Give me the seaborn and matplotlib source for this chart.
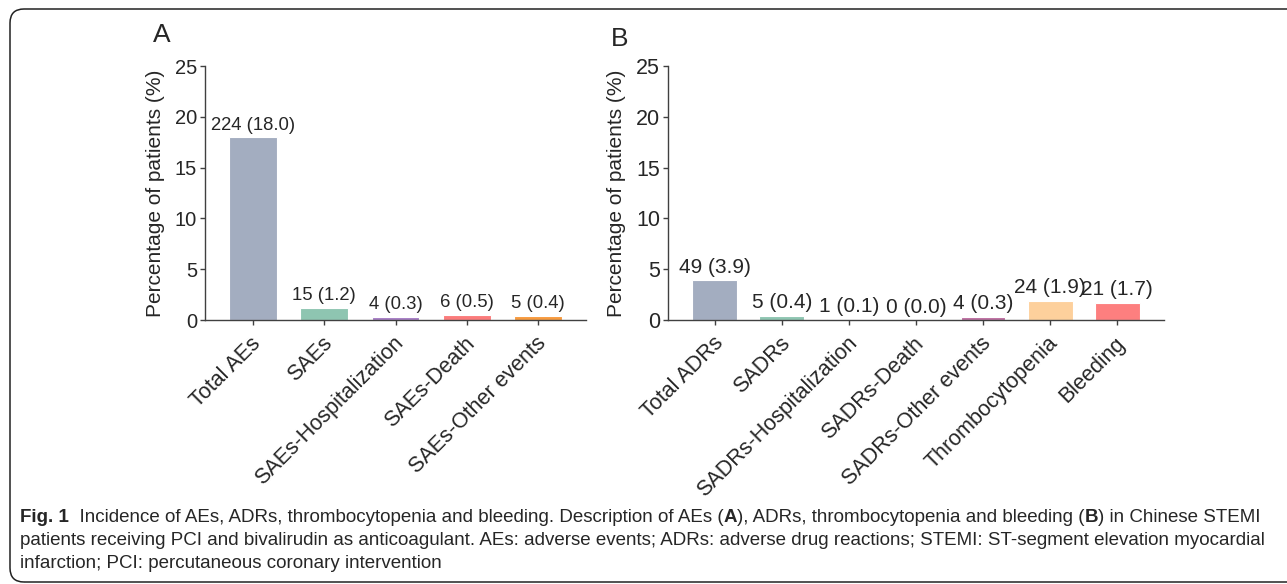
import matplotlib
matplotlib.use("Agg")
import matplotlib.pyplot as plt
import matplotlib.transforms as mtransforms
from matplotlib.patches import FancyBboxPatch
import seaborn as sns
import pandas as pd

# === Data ===
ae_labels = ["Total AEs", "SAEs", "SAEs-Hospitalization", "SAEs-Death", "SAEs-Other events"]
ae_counts = [224, 15, 4, 6, 5]
ae_pct = [18.0, 1.2, 0.3, 0.5, 0.4]
ae_colors = ["#a3adc0", "#8ec5b1", "#a67cc4", "#fb7b7b", "#f79a3e"]

adr_labels = ["Total ADRs", "SADRs", "SADRs-Hospitalization", "SADRs-Death",
              "SADRs-Other events", "Thrombocytopenia", "Bleeding"]
adr_counts = [49, 5, 1, 0, 4, 24, 21]
adr_pct = [3.9, 0.4, 0.1, 0.0, 0.3, 1.9, 1.7]
adr_colors = ["#a3adc0", "#8ec5b1", "#a67cc4", "#c9a0c0", "#bd6ea0", "#fdd09c", "#fd7f7f"]

y_ticks = [0, 5, 10, 15, 20, 25]

sns.set_style("ticks")
plt.rcParams["font.family"] = ["Liberation Sans", "DejaVu Sans"]
AXC = "#404040"

W, H = 1287, 584
fig = plt.figure(figsize=(W / 100, H / 100), dpi=100)


def px_rect(left, right, top, bottom):
    return [left / W, (H - bottom) / H, (right - left) / W, (bottom - top) / H]


def draw_panel(ax, labels, counts, pct, colors, xpad, lab_fs, ytick_fs):
    df = pd.DataFrame({"cat": labels, "pct": pct})
    sns.barplot(data=df, x="cat", y="pct", hue="cat", palette=colors, legend=False,
                width=0.67, saturation=1, edgecolor="white", linewidth=0.8, ax=ax)
    for cont, n, p in zip(ax.containers, counts, pct):
        ax.bar_label(cont, labels=[f"{n} ({p:.1f})"], padding=2.5, fontsize=lab_fs)
    ax.set_xlim(-xpad, len(labels) - 1 + xpad)
    ax.set_ylim(0, 25)
    ax.set_yticks(y_ticks)
    ax.set_xlabel("")
    ax.set_ylabel("Percentage of patients (%)", fontsize=15, labelpad=7)
    sns.despine(ax=ax)
    for s in ["left", "bottom"]:
        ax.spines[s].set_color(AXC)
        ax.spines[s].set_linewidth(1.0)
    ax.tick_params(axis="y", labelsize=ytick_fs, length=3.6, width=1.0, color=AXC, pad=2)
    ax.tick_params(axis="x", labelsize=15.5, length=3.6, width=1.0, color=AXC, pad=11)
    ax.set_xticks(range(len(labels)))
    ax.set_xticklabels(labels, rotation=45, ha="right", va="center", rotation_mode="anchor")
    shift = mtransforms.ScaledTranslation(5 / 100, 0, fig.dpi_scale_trans)
    for lab in ax.get_xticklabels():
        lab.set_transform(lab.get_transform() + shift)


# === Panel A ===
ax_a = fig.add_axes(px_rect(205, 586, 66, 320))
draw_panel(ax_a, ae_labels, ae_counts, ae_pct, ae_colors, 0.67, 13.3, 14.5)

# === Panel B ===
ax_b = fig.add_axes(px_rect(668, 1164, 66, 320))
draw_panel(ax_b, adr_labels, adr_counts, adr_pct, adr_colors, 0.70, 15, 15.5)

fig.text(162 / W, 1 - 35 / H, "A", fontsize=19, ha="center", va="center")
fig.text(620 / W, 1 - 39 / H, "B", fontsize=19, ha="center", va="center")

# === Caption ===
cap = fig.add_axes([0, 0, 1, 1], zorder=-1)
cap.axis("off")
cfam = ["Liberation Sans", "DejaVu Sans"]
cfs = 13.5


def chain(pieces, x, y):
    prev = None
    for txt, bold in pieces:
        w = "bold" if bold else "normal"
        if prev is None:
            prev = cap.text(x, y, txt, fontsize=cfs, family=cfam, weight=w,
                            va="bottom", ha="left", transform=fig.transFigure)
        else:
            prev = cap.annotate(txt, xy=(1, 0), xycoords=prev, fontsize=cfs, family=cfam,
                                weight=w, va="bottom", ha="left")


chain([("Fig. 1", True),
       ("  Incidence of AEs, ADRs, thrombocytopenia and bleeding. Description of AEs (", False),
       ("A", True), ("), ADRs, thrombocytopenia and bleeding (", False), ("B", True),
       (") in Chinese STEMI", False)], 20 / W, 1 - 526 / H)
chain([("patients receiving PCI and bivalirudin as anticoagulant. AEs: adverse events; ADRs: "
        "adverse drug reactions; STEMI: ST-segment elevation myocardial", False)], 20 / W, 1 - 549 / H)
chain([("infarction; PCI: percutaneous coronary intervention", False)], 20 / W, 1 - 572 / H)

# === Rounded frame ===
frame = FancyBboxPatch((10, 2), 1400, H - 9 - 2, boxstyle="round,pad=0,rounding_size=14",
                       fill=False, edgecolor="#222222", linewidth=1.1,
                       transform=mtransforms.IdentityTransform())
fig.add_artist(frame)

fig.savefig("out.png", dpi=100)
plt.close(fig)
